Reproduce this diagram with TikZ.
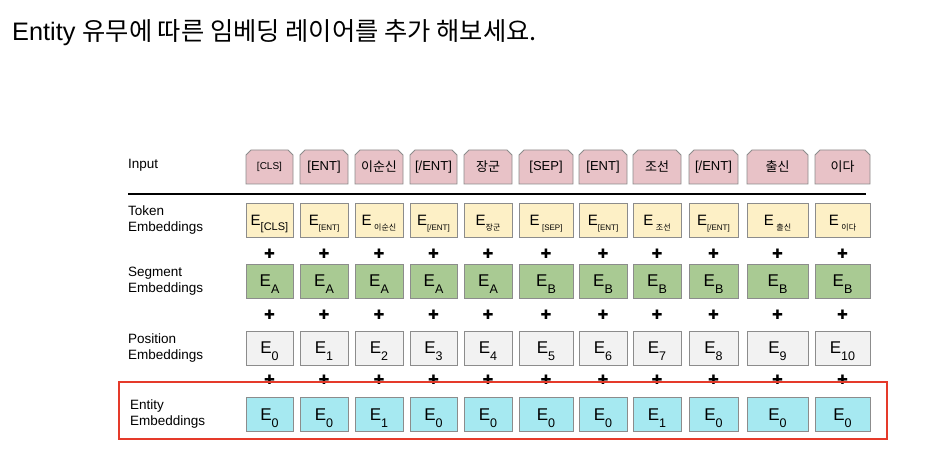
\documentclass[tikz,border=0pt]{standalone}
\usepackage{fontspec}
\setmainfont{Liberation Sans}
\newfontfamily\krfont{Noto Sans CJK KR}
\newfontfamily\symfont{DejaVu Sans}
\usetikzlibrary{shapes.misc}
\newcommand{\kr}[1]{{\krfont #1}}
\newcommand{\tsub}[2][8]{\raisebox{-5pt}{\fontsize{#1}{#1}\selectfont #2}}
\newcommand{\esub}[1]{\raisebox{-7pt}{\fontsize{12.5}{12.5}\selectfont #1}}
\definecolor{inpink}{HTML}{E8C2C7}
\definecolor{tokyel}{HTML}{FDF0C6}
\definecolor{seggrn}{HTML}{A9CA93}
\definecolor{posgry}{HTML}{F2F2F2}
\definecolor{entcyn}{HTML}{A6E9F1}
\definecolor{boxgray}{HTML}{8C8C8C}
\definecolor{framered}{HTML}{E53A2A}
\tikzset{
  box/.style={draw=boxgray,line width=0.8pt,minimum height=34pt,inner sep=0pt,outer sep=0pt},
  inbox/.style={box,fill=inpink,chamfered rectangle,chamfered rectangle xsep=2.5pt,
    chamfered rectangle ysep=2.5pt,chamfered rectangle corners={north west,north east},
    font=\fontsize{13}{13}\selectfont},
  tokbox/.style={box,fill=tokyel,text depth=0pt,font=\fontsize{15}{15}\selectfont},
  segbox/.style={box,fill=seggrn,text depth=0pt,font=\fontsize{17}{17}\selectfont},
  posbox/.style={box,fill=posgry,text depth=0pt,font=\fontsize{17}{17}\selectfont},
  entbox/.style={box,fill=entcyn,text depth=0pt,font=\fontsize{17}{17}\selectfont},
  plus/.style={font=\fontsize{13}{13}\symfont,inner sep=0pt},
  rowlabel/.style={anchor=west,align=left,inner sep=0pt,font=\fontsize{13.5}{16}\selectfont}
}
\begin{document}
\begin{tikzpicture}[x=1pt,y=-1pt]
\useasboundingbox[fill=white] (0,0) rectangle (930,457);
\node[anchor=west,inner sep=0pt,font=\fontsize{25.3}{25.3}\selectfont] (title) at (12,33)
  {Entity \kr{유무에 따른 임베딩 레이어를 추가 해보세요.}};
% row names
\node[rowlabel] (linput) at (128,165) {Input};
\node[rowlabel] (ltok) at (128,220) {Token\\Embeddings};
\node[rowlabel] (lseg) at (128,281) {Segment\\Embeddings};
\node[rowlabel] (lpos) at (128,348) {Position\\Embeddings};
\node[rowlabel] (lent) at (130,414) {Entity\\Embeddings};
\coordinate (rulel) at (128,194);
\coordinate (ruler) at (866,194);
\draw[line width=2pt] (rulel) -- (ruler);
% one column per token
\foreach \i/\x/\w/\inp/\tok/\seg/\pos/\ent in {
  1/269.5/47/{\fontsize{10}{10}\selectfont[CLS]}/{\tsub[11]{[CLS]}}/A/0/0,
  2/324/48/[ENT]/{\tsub{[ENT]}}/A/1/0,
  3/379/48/{\kr{이순신}}/{\,\tsub{\kr{이순신}}}/A/2/1,
  4/433.5/47/{[/ENT]}/{\tsub{[/ENT]}}/A/3/0,
  5/488/48/{\kr{장군}}/{\tsub{\kr{장군}}}/A/4/0,
  6/546/54/[SEP]/{\,\tsub{[SEP]}}/B/5/0,
  7/603/48/[ENT]/{\tsub{[ENT]}}/B/6/0,
  8/657/48/{\kr{조선}}/{\,\tsub{\kr{조선}}}/B/7/1,
  9/713.5/49/{[/ENT]}/{\tsub{[/ENT]}}/B/8/0,
  10/777.5/61/{\kr{출신}}/{\,\tsub{\kr{출신}}}/B/9/0,
  11/842.5/55/{\kr{이다}}/{\,\tsub{\kr{이다}}}/B/10/0}{
  \node[inbox,minimum width=\w pt] (in\i) at (\x,167) {\inp};
  \node[tokbox,minimum width=\w pt] (tok\i) at (\x,220.5) {E\tok};
  \node[plus] (pa\i) at (\x,254) {✚};
  \node[segbox,minimum width=\w pt] (seg\i) at (\x,281) {E\esub{\seg}};
  \node[plus] (pb\i) at (\x,315) {✚};
  \node[posbox,minimum width=\w pt] (pos\i) at (\x,348) {E\esub{\pos}};
  \node[plus] (pc\i) at (\x,380) {✚};
  \node[entbox,minimum width=\w pt] (ent\i) at (\x,414.5) {E\esub{\ent}};
}
\draw[framered,line width=2pt] (119,382) rectangle (887,439);
\end{tikzpicture}
\end{document}
